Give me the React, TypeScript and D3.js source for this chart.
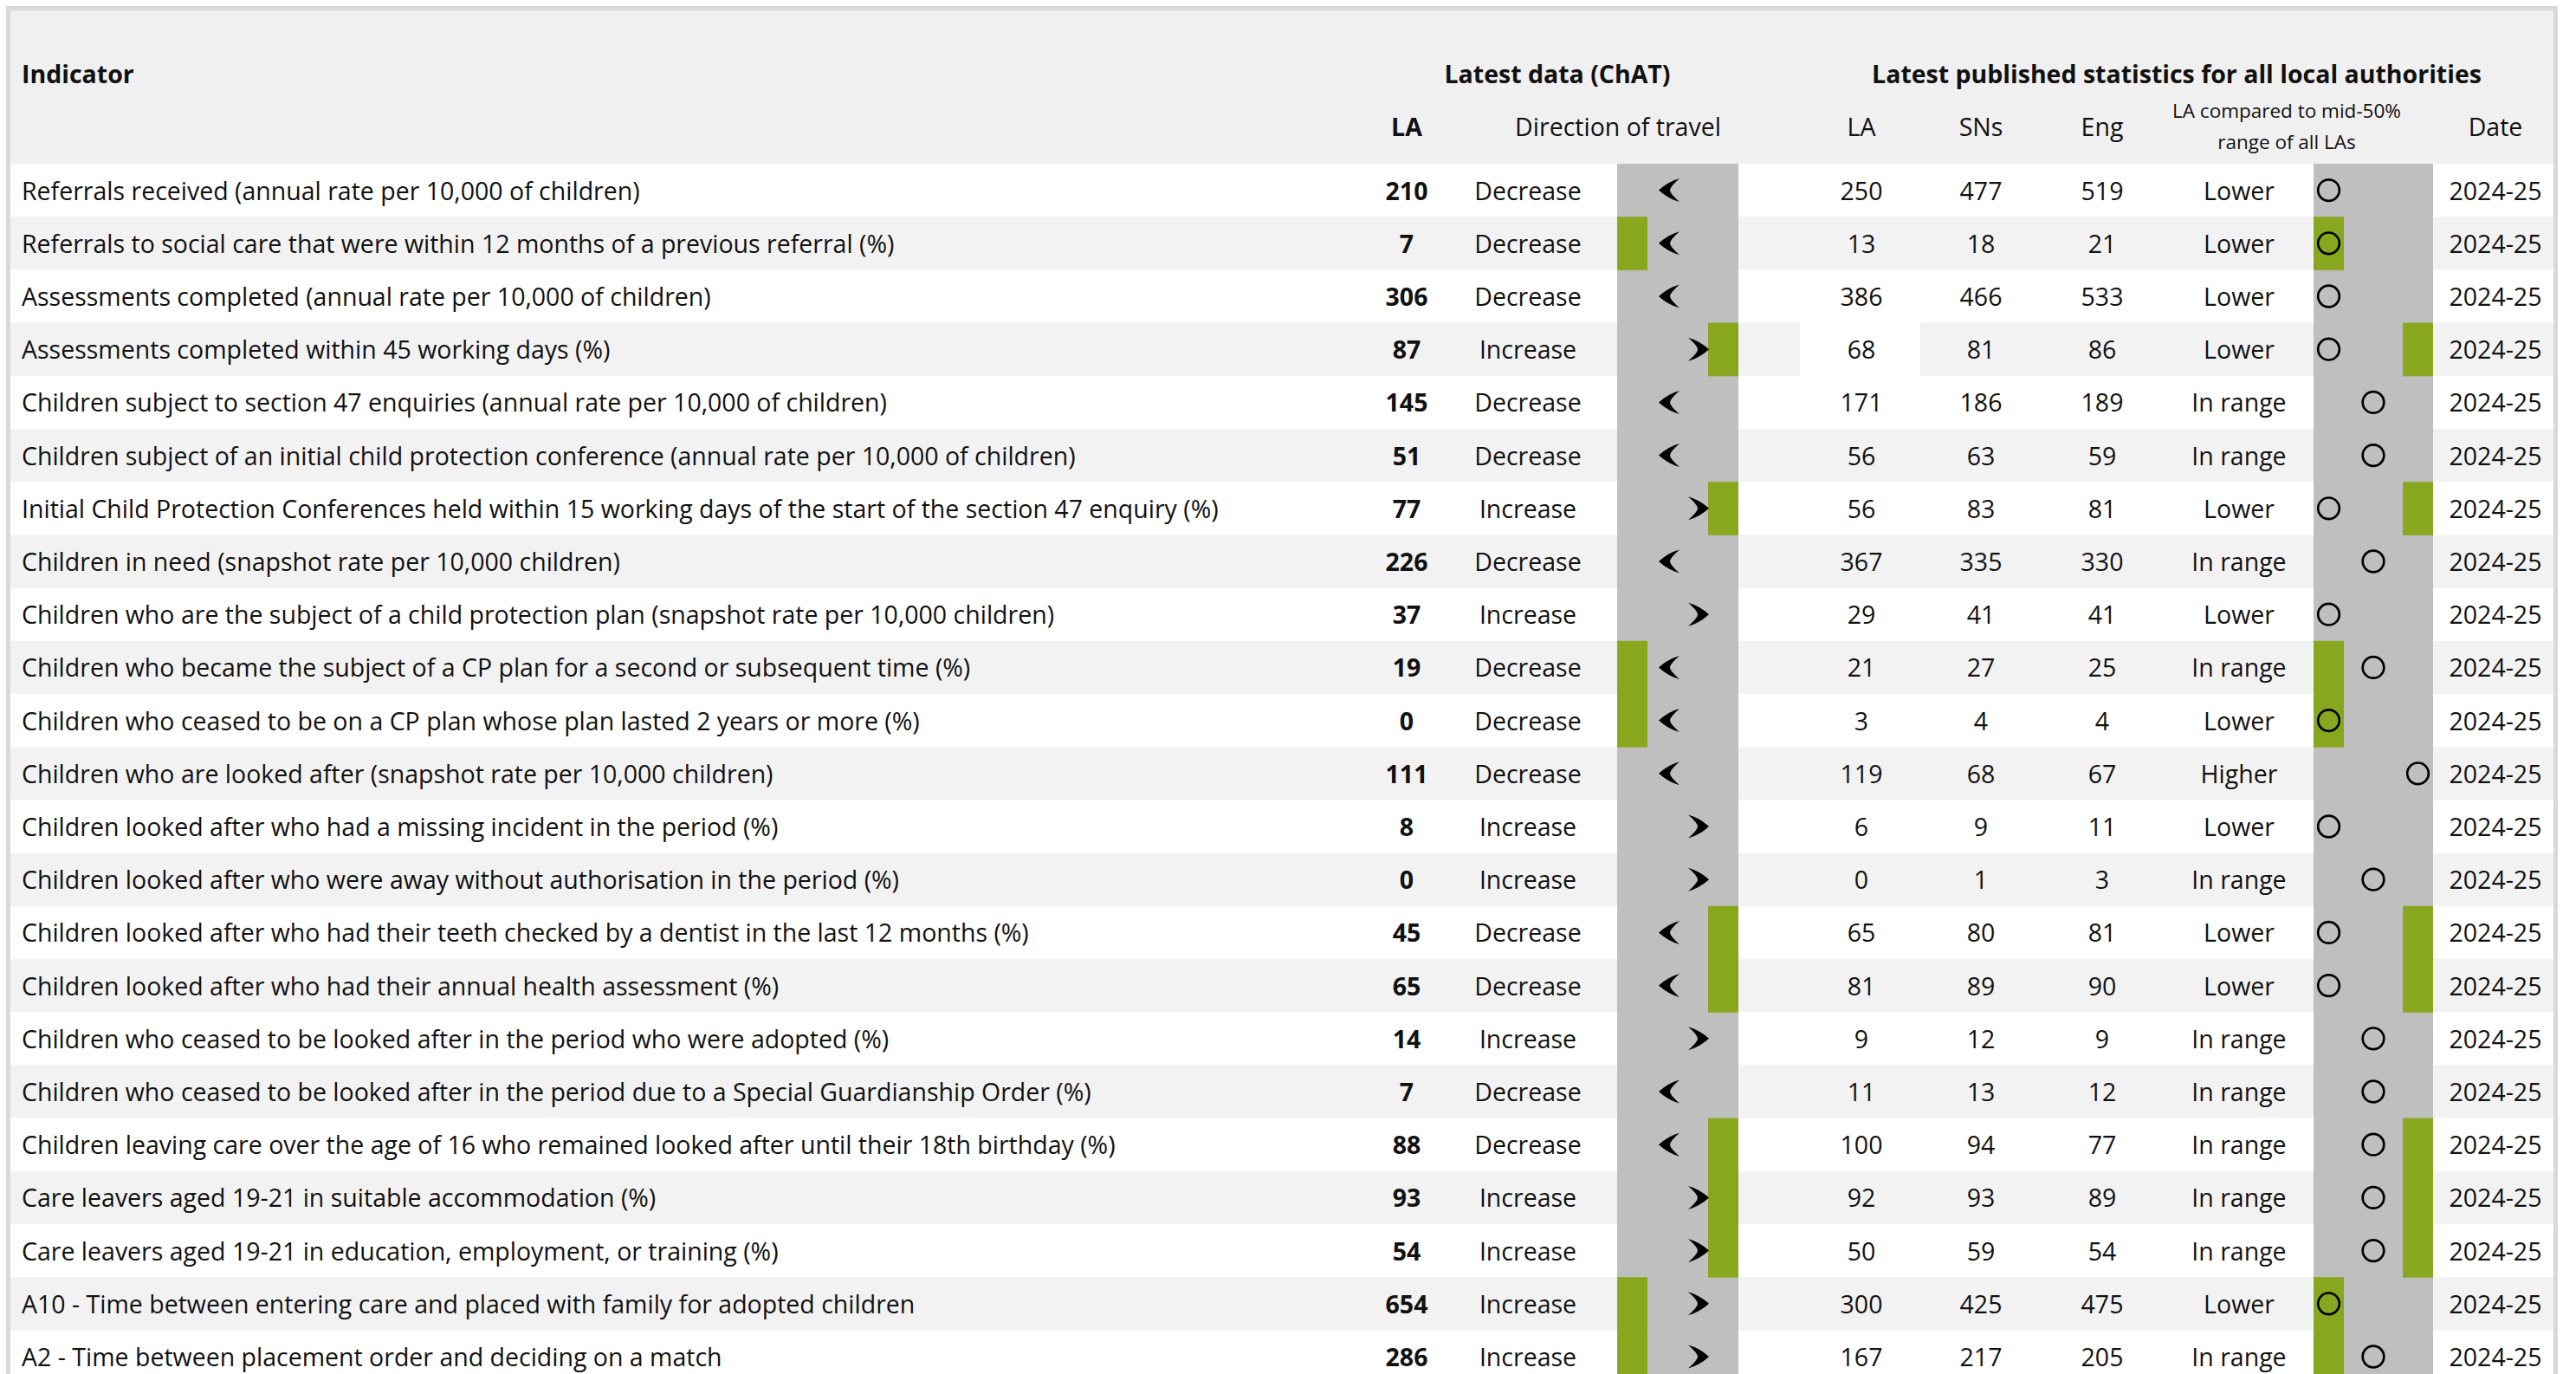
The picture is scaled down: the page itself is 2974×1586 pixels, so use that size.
import * as d3 from "d3";

// indicator rows, top to bottom
const indicators = [
  "Referrals received (annual rate per 10,000 of children)",
  "Referrals to social care that were within 12 months of a previous referral (%)",
  "Assessments completed (annual rate per 10,000 of children)",
  "Assessments completed within 45 working days (%)",
  "Children subject to section 47 enquiries (annual rate per 10,000 of children)",
  "Children subject of an initial child protection conference (annual rate per 10,000 of children)",
  "Initial Child Protection Conferences held within 15 working days of the start of the section 47 enquiry (%)",
  "Children in need (snapshot rate per 10,000 children)",
  "Children who are the subject of a child protection plan (snapshot rate per 10,000 children)",
  "Children who became the subject of a CP plan for a second or subsequent time (%)",
  "Children who ceased to be on a CP plan whose plan lasted 2 years or more (%)",
  "Children who are looked after (snapshot rate per 10,000 children)",
  "Children looked after who had a missing incident in the period (%)",
  "Children looked after who were away without authorisation in the period (%)",
  "Children looked after who had their teeth checked by a dentist in the last 12 months (%)",
  "Children looked after who had their annual health assessment (%)",
  "Children who ceased to be looked after in the period who were adopted (%)",
  "Children who ceased to be looked after in the period due to a Special Guardianship Order (%)",
  "Children leaving care over the age of 16 who remained looked after until their 18th birthday (%)",
  "Care leavers aged 19-21 in suitable accommodation (%)",
  "Care leavers aged 19-21 in education, employment, or training (%)",
  "A10 - Time between entering care and placed with family for adopted children",
  "A2 - Time between placement order and deciding on a match",
];

const chatLA = [210, 7, 306, 87, 145, 51, 77, 226, 37, 19, 0, 111, 8, 0, 45, 65, 14, 7, 88, 93, 54, 654, 286];
const direction = [
  "Decrease", "Decrease", "Decrease", "Increase", "Decrease", "Decrease", "Increase", "Decrease",
  "Increase", "Decrease", "Decrease", "Decrease", "Increase", "Increase", "Decrease", "Decrease",
  "Increase", "Decrease", "Decrease", "Increase", "Increase", "Increase", "Increase",
];
// which side of the travel cell is highlighted (L / R / "")
const directionFlag = ["", "L", "", "R", "", "", "R", "", "", "L", "L", "", "", "", "R", "R", "", "", "R", "R", "R", "L", "L"];

const pubLA = [250, 13, 386, 68, 171, 56, 56, 367, 29, 21, 3, 119, 6, 0, 65, 81, 9, 11, 100, 92, 50, 300, 167];
const statNeighbours = [477, 18, 466, 81, 186, 63, 83, 335, 41, 27, 4, 68, 9, 1, 80, 89, 12, 13, 94, 93, 59, 425, 217];
const england = [519, 21, 533, 86, 189, 59, 81, 330, 41, 25, 4, 67, 11, 3, 81, 90, 9, 12, 77, 89, 54, 475, 205];
const comparison = [
  "Lower", "Lower", "Lower", "Lower", "In range", "In range", "Lower", "In range", "Lower", "In range",
  "Lower", "Higher", "Lower", "In range", "Lower", "Lower", "In range", "In range", "In range", "In range",
  "In range", "Lower", "In range",
];
const comparisonFlag = ["", "L", "", "R", "", "", "R", "", "", "L", "L", "", "", "", "R", "R", "", "", "R", "R", "R", "L", "L"];
const dates = Array(23).fill("2024-25");

const bands = ["Lower", "In range", "Higher"];
const travel = ["Decrease", "Increase"];

const W = 2974;
const H = 1586;
const FONT = "'Segoe UI', 'Open Sans', sans-serif";
const GREY = "#bfbfbf";
const GREEN = "#89a71e";
const STRIPE = "#f2f2f2";
const INK = "#111";

export default function App() {
  const left = 12;
  const right = 2948;
  const headerBottom = 189;
  const rowH = 61.2;
  const n = indicators.length;

  const y = d3.scaleBand<number>()
    .domain(d3.range(n))
    .range([headerBottom, headerBottom + rowH * n])
    .padding(0);

  // column anchors
  const col = {
    ind: 25,
    chatLA: 1624,
    dirText: 1764,
    dirX: 1867,
    dirW: 140,
    la: 2149,
    sn: 2287,
    eng: 2427,
    cmpText: 2585,
    cmpX: 2671,
    cmpW: 138,
    date: 2881,
  };
  const flagW = 35;

  const arrowX = d3.scalePoint<string>().domain(travel).range([col.dirX + 60, col.dirX + col.dirW - 46]);
  const circleX = d3.scalePoint<string>().domain(bands).range([col.cmpX + 17.5, col.cmpX + col.cmpW - 17.5]);

  // chevron arrowhead with slightly bulged sides
  const arrowPath = (dir: string, cx: number, cy: number) => {
    const s = dir === "Decrease" ? -1 : 1;
    const tip = cx + s * 12;
    const back = cx - s * 12;
    const notch = cx - s * 1;
    const bulge = cx + s * 1;
    return `M${tip},${cy} Q${bulge},${cy - 10} ${back},${cy - 13.5} Q${notch},${cy - 4} ${notch},${cy} Q${notch},${cy + 4} ${back},${cy + 13.5} Q${bulge},${cy + 10} ${tip},${cy} Z`;
  };

  const fs = 28.5;

  return (
    <svg
      width={W}
      height={H}
      style={{ position: "absolute", left: 0, top: 0, display: "block", background: "#fff" }}
      fontFamily={FONT}
    >
      {/* header band */}
      <rect x={left} y={left} width={right - left} height={headerBottom - left} fill="#f0f0f0" />

      {/* row stripes */}
      {indicators.map((_, i) => (
        <rect key={`r${i}`} x={left} y={y(i)} width={right - left} height={y.bandwidth() + 0.5}
          fill={i % 2 === 1 ? STRIPE : "#fff"} />
      ))}
      {/* the published LA cell of row 4 renders white in the source */}
      <rect x={2078} y={y(3)} width={139} height={y.bandwidth()} fill="#fff" />

      {/* grey indicator columns */}
      <rect x={col.dirX} y={headerBottom} width={col.dirW} height={H} fill={GREY} />
      <rect x={col.cmpX} y={headerBottom} width={col.cmpW} height={H} fill={GREY} />

      {indicators.map((_, i) => {
        const top = y(i) as number;
        const bh = y.bandwidth();
        const out = [];
        if (directionFlag[i]) {
          out.push(<rect key={`df${i}`} x={directionFlag[i] === "L" ? col.dirX : col.dirX + col.dirW - flagW}
            y={top} width={flagW} height={bh + 0.5} fill={GREEN} />);
        }
        if (comparisonFlag[i]) {
          out.push(<rect key={`cf${i}`} x={comparisonFlag[i] === "L" ? col.cmpX : col.cmpX + col.cmpW - flagW}
            y={top} width={flagW} height={bh + 0.5} fill={GREEN} />);
        }
        return out;
      })}

      {/* header text */}
      <g fill={INK} fontSize={fs} dominantBaseline="central">
        <text x={col.ind} y={85} fontWeight={700}>Indicator</text>
        <text x={1798} y={85} fontWeight={700} textAnchor="middle">Latest data (ChAT)</text>
        <text x={2513} y={85} fontWeight={700} textAnchor="middle">Latest published statistics for all local authorities</text>
        <text x={col.chatLA} y={146} fontWeight={700} textAnchor="middle">LA</text>
        <text x={1868} y={146} textAnchor="middle">Direction of travel</text>
        <text x={col.la} y={146} textAnchor="middle">LA</text>
        <text x={col.sn} y={146} textAnchor="middle">SNs</text>
        <text x={col.eng} y={146} textAnchor="middle">Eng</text>
        <text x={2640} y={127} textAnchor="middle" fontSize={22.5}>LA compared to mid-50%</text>
        <text x={2640} y={163} textAnchor="middle" fontSize={22.5}>range of all LAs</text>
        <text x={col.date} y={146} textAnchor="middle">Date</text>
      </g>

      {/* body */}
      <g fill={INK} fontSize={fs} dominantBaseline="central">
        {indicators.map((name, i) => {
          const cy = (y(i) as number) + y.bandwidth() / 2;
          return (
            <g key={`t${i}`}>
              <text x={col.ind} y={cy}>{name}</text>
              <text x={col.chatLA} y={cy} textAnchor="middle" fontWeight={700}>{chatLA[i]}</text>
              <text x={col.dirText} y={cy} textAnchor="middle">{direction[i]}</text>
              <path d={arrowPath(direction[i], arrowX(direction[i]) as number, cy)} fill="#000" />
              <text x={col.la} y={cy} textAnchor="middle">{pubLA[i]}</text>
              <text x={col.sn} y={cy} textAnchor="middle">{statNeighbours[i]}</text>
              <text x={col.eng} y={cy} textAnchor="middle">{england[i]}</text>
              <text x={col.cmpText} y={cy} textAnchor="middle">{comparison[i]}</text>
              <circle cx={circleX(comparison[i])} cy={cy} r={12.3} fill="none" stroke="#000" strokeWidth={2.7} />
              <text x={col.date} y={cy} textAnchor="middle">{dates[i]}</text>
            </g>
          );
        })}
      </g>

      {/* outer frame */}
      <rect x={9.5} y={9.5} width={2941} height={H + 20} fill="none" stroke="#d9d9d9" strokeWidth={5} />
    </svg>
  );
}
